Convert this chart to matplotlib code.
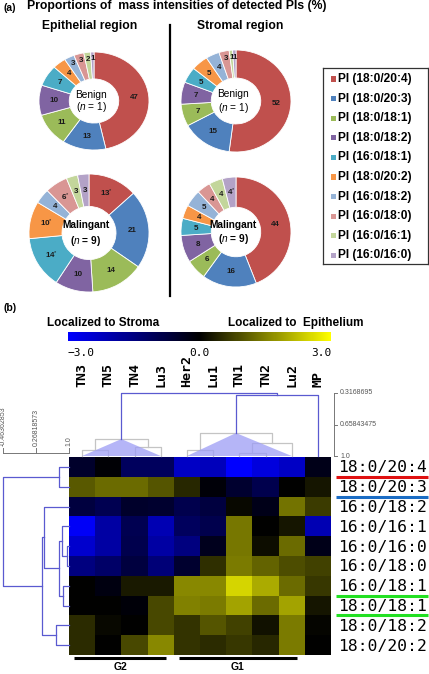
import matplotlib
matplotlib.use('Agg')
import matplotlib.pyplot as plt
import matplotlib.patches as patches
import matplotlib.transforms as mtransforms
from matplotlib.colors import LinearSegmentedColormap
import numpy as np

plt.rcParams['font.family'] = 'Liberation Sans'
plt.rcParams['mathtext.fontset'] = 'custom'
plt.rcParams['mathtext.it'] = 'Liberation Sans:italic'
plt.rcParams['mathtext.rm'] = 'Liberation Sans'

W, H = 429, 674

# ---- (a) donut data ----
species = ['PI (18:0/20:4)', 'PI (18:0/20:3)', 'PI (18:0/18:1)', 'PI (18:0/18:2)',
           'PI (16:0/18:1)', 'PI (18:0/20:2)', 'PI (16:0/18:2)', 'PI (16:0/18:0)',
           'PI (16:0/16:1)', 'PI (16:0/16:0)']
species_colors = ['#C0504D', '#4F81BD', '#9BBB59', '#8064A2', '#4BACC6',
                  '#F79646', '#95B3D7', '#D99694', '#C3D69B', '#B3A2C7']

epi_benign = [47, 13, 11, 10, 7, 4, 3, 3, 2, 1]
str_benign = [52, 15, 7, 7, 5, 5, 4, 3, 1, 1]
epi_malig = [13, 21, 14, 10, 14, 10, 4, 6, 3, 3]
str_malig = [44, 16, 6, 8, 5, 4, 5, 4, 4, 4]
epi_malig_sig = [1, 0, 0, 0, 1, 1, 0, 1, 0, 0]
str_malig_sig = [0, 0, 0, 0, 0, 0, 0, 0, 0, 1]

# ---- (b) heatmap data ----
lipids = ['18:0/20:4', '18:0/20:3', '16:0/18:2', '16:0/16:1', '16:0/16:0',
          '16:0/18:0', '16:0/18:1', '18:0/18:1', '18:0/18:2', '18:0/20:2']
samples = ['TN3', 'TN5', 'TN4', 'Lu3', 'Her2', 'Lu1', 'TN1', 'TN2', 'Lu2', 'MP']
log_ratio = np.array([
    [-0.5, -0.05, -1.1, -1.1, -2.3, -2.2, -3.0, -2.6, -2.3, -0.3],
    [1.05, 1.25, 1.25, 1.0, 0.45, -0.1, -0.55, -0.9, 0.0, 0.25],
    [-0.75, -0.95, -0.5, -0.55, -0.9, -0.75, 0.1, -0.3, 1.35, 0.7],
    [-2.9, -1.9, -0.95, -2.1, -1.1, -0.9, 1.4, 0.0, 0.25, -2.1],
    [-2.4, -1.9, -0.9, -1.9, -1.5, -0.35, 1.4, 0.15, 1.25, -0.3],
    [-1.5, -1.2, -0.75, -1.4, -0.55, 0.55, 1.45, 1.15, 0.9, 0.75],
    [0.0, -0.2, 0.3, 0.3, 1.6, 1.6, 2.5, 2.0, 1.25, 0.65],
    [0.0, 0.0, -0.1, 0.85, 1.5, 1.45, 1.9, 1.25, 1.9, 0.25],
    [0.5, 0.1, 0.0, 0.85, 0.6, 1.0, 0.75, 0.2, 1.45, 0.05],
    [0.5, 0.0, 0.85, 1.6, 0.6, 0.5, 0.65, 0.45, 1.45, 0.0],
])
highlight = {'18:0/20:4': '#e01010', '18:0/20:3': '#1a6cc4',
             '16:0/18:1': '#22e022', '18:0/18:1': '#22e022'}
groups = [('G2', 0, 3), ('G1', 4, 8)]

# hierarchical clustering (merge a, b at similarity h), leaves in display order
row_merges = [(4, 5, 0.949), (3, 10, 0.838), (6, 7, 0.874), (11, 12, 0.785),
              (2, 13, 0.452), (8, 9, 0.712), (14, 15, 0.394), (0, 1, 0.785),
              (17, 16, -0.457)]
col_merges = [(0, 1, 0.935), (2, 3, 0.902), (10, 11, 0.816), (4, 5, 0.935),
              (6, 7, 0.967), (14, 8, 0.859), (13, 15, 0.751), (16, 9, 0.339),
              (12, 17, 0.3169)]
row_scale = [-0.46362853, 0.26818573, 1.0]
row_scale_labels = ['-0.46362853', '0.26818573', '1.0']
col_scale = [0.3168695, 0.65843475, 1.0]
col_scale_labels = ['0.3168695', '0.65843475', '1.0']

fig = plt.figure(figsize=(W / 100, H / 100), dpi=100)


def px_axes(x0, y0, x1, y1):
    return fig.add_axes([x0 / W, 1 - y1 / H, (x1 - x0) / W, (y1 - y0) / H])


def ftext(x, y, s, **kw):
    return fig.text(x / W, 1 - y / H, s, **kw)


# ---------------- (a) ----------------
ftext(3, 8, '(a)', fontsize=7.5, fontweight='bold', va='center')
ftext(27, 6, 'Proportions of  mass intensities of detected PIs (%)',
      fontsize=8.8, fontweight='bold', va='center')
ftext(90, 26, 'Epithelial region', fontsize=8.7, fontweight='bold', ha='center', va='center')
ftext(240, 26, 'Stromal region', fontsize=8.7, fontweight='bold', ha='center', va='center')
fig.add_artist(plt.Line2D([170 / W, 170 / W], [1 - 25 / H, 1 - 296 / H], color='black', lw=1.6))

pies = [
    (epi_benign, None, (94, 101, 55, 49), 'Benign', 1),
    (str_benign, None, (236, 101, 55, 51), 'Benign', 1),
    (epi_malig, epi_malig_sig, (89, 233, 60, 59), 'Malingant', 9),
    (str_malig, str_malig_sig, (236, 232, 55, 55), 'Malingant', 9),
]
for vals, sig, (cx, cy, rx, ry), grp, n in pies:
    ax = px_axes(cx - rx, cy - ry, cx + rx, cy + ry)
    wedges, _ = ax.pie(vals, colors=species_colors, startangle=90, counterclock=False,
                       radius=1, wedgeprops=dict(width=0.55, edgecolor='white', linewidth=0.6))
    ax.set_aspect('auto')
    ax.set_xlim(-1, 1)
    ax.set_ylim(-1, 1)
    ax.axis('off')
    for i, w in enumerate(wedges):
        ang = np.deg2rad((w.theta1 + w.theta2) / 2)
        r = 0.86 if (vals[i] <= 3 and n == 1) else 0.73
        lab = str(vals[i]) + ('$^{*}$' if sig is not None and sig[i] else '')
        ax.text(r * np.cos(ang), r * np.sin(ang), lab, ha='center', va='center',
                fontsize=5.8, fontweight='bold', color='#1a1a1a')
    wt = 'bold' if n > 1 else 'normal'
    ax.text(-0.05, 0.13, grp, ha='center', va='center', fontsize=7.3, fontweight=wt)
    ax.text(-0.05, -0.13, '($\\it{n}$ = %d)' % n, ha='center', va='center', fontsize=7.3,
            fontweight=wt)

# legend
axl = px_axes(323, 68, 428, 264)
axl.set_xlim(0, 105)
axl.set_ylim(196, 0)
axl.set_xticks([])
axl.set_yticks([])
for s in axl.spines.values():
    s.set_linewidth(0.9)
    s.set_color('#333333')
for i, (name, col) in enumerate(zip(species, species_colors)):
    y = 11 + 19.6 * i
    axl.add_patch(patches.Rectangle((8, y - 2.6), 5.2, 5.2, facecolor=col, edgecolor='none'))
    axl.text(14.5, y, name, fontsize=8.6, fontweight='bold', va='center', ha='left')

# ---------------- (b) ----------------
ftext(3, 308, '(b)', fontsize=7.5, fontweight='bold', va='center')
ftext(103, 323, 'Localized to Stroma', fontsize=8.5, fontweight='bold', ha='center', va='center')
ftext(228, 323, 'Localized to  Epithelium', fontsize=8.5, fontweight='bold', ha='left', va='center')

cmap = LinearSegmentedColormap.from_list('bky', ['#0000ff', '#000000', '#ffff00'])

axh = px_axes(69, 457, 331, 655)
im = axh.imshow(log_ratio, cmap=cmap, vmin=-3, vmax=3, aspect='auto', interpolation='nearest')
axh.axis('off')

cax = px_axes(68, 332, 331, 341)
cb = fig.colorbar(im, cax=cax, orientation='horizontal', ticks=[-3, 0, 3])
cb.outline.set_visible(False)
cax.set_xticklabels(['\u22123.0', '0.0', '3.0'], fontfamily='DejaVu Sans Mono', fontsize=8)
cax.tick_params(length=0, pad=5)
tl = cax.get_xticklabels()
tl[0].set_ha('left')
tl[2].set_ha('right')

# row labels + underlines
trow = mtransforms.blended_transform_factory(axh.transAxes, axh.transData)
for i, name in enumerate(lipids):
    axh.text((338 - 69) / 262, i + 0.05, name, transform=trow, ha='left', va='center',
             fontfamily='DejaVu Sans Mono', fontsize=11.8, clip_on=False)
    if name in highlight:
        axh.plot([(336 - 69) / 262, (428 - 69) / 262], [i + 0.5, i + 0.5], transform=trow,
                 color=highlight[name], lw=2.2, clip_on=False, solid_capstyle='butt')

# column labels
tcol = mtransforms.blended_transform_factory(axh.transData, fig.transFigure)
for j, name in enumerate(samples):
    axh.text(j, 1 - 387 / H, name, transform=tcol, rotation=90, ha='center', va='bottom',
             fontfamily='DejaVu Sans Mono', fontsize=9.5, fontweight='bold', clip_on=False)

# group bars
for name, a, b in groups:
    x0, x1 = a - 0.3, b + 0.2
    axh.plot([x0, x1], [1 - 658 / H] * 2, transform=tcol, color='black', lw=2.2,
             clip_on=False, solid_capstyle='butt')
    axh.text((x0 + x1) / 2, 1 - 667 / H, name, transform=tcol, ha='center', va='center',
             fontsize=7.5, fontweight='bold')


def build_tree(merges, n):
    pos = {i: float(i) for i in range(n)}
    hgt = {i: 1.0 for i in range(n)}
    leaves = {i: [i] for i in range(n)}
    parent = {}
    links = []
    for k, (a, b, h) in enumerate(merges):
        node = n + k
        pos[node] = (pos[a] + pos[b]) / 2
        hgt[node] = h
        leaves[node] = leaves[a] + leaves[b]
        parent[a] = node
        parent[b] = node
        links.append((node, a, b))
    return pos, hgt, leaves, parent, links


# column dendrogram
blue = '#5a5ad0'
axc = px_axes(69, 393, 331, 456)
axc.set_xlim(-0.5, 9.5)
axc.set_ylim(1.0, col_scale[0])
axc.axis('off')
cpos, chgt, cleaves, cparent, clinks = build_tree(col_merges, len(samples))
cut = 0.7
for node, a, b in clinks:
    h = chgt[node]
    col = blue if h < cut else '#c4c4c4'
    axc.plot([cpos[a], cpos[a], cpos[b], cpos[b]], [chgt[a], h, h, chgt[b]],
             color=col, lw=0.9, clip_on=False, zorder=3 if h < cut else 1)
for node, a, b in clinks:
    h = chgt[node]
    if h >= cut and node in cparent and chgt[cparent[node]] < cut:
        lv = cleaves[node]
        tri = patches.Polygon([(min(lv), 1.0), (max(lv), 1.0), (cpos[node], h)],
                              closed=True, facecolor='#9d9df5', alpha=0.75,
                              edgecolor='none', zorder=2, clip_on=False)
        axc.add_patch(tri)

# column scale
tsc = mtransforms.blended_transform_factory(fig.transFigure, axc.transData)
axc.plot([334 / W, 334 / W], [col_scale[0], col_scale[-1]], transform=tsc, color='#777777',
         lw=0.7, clip_on=False)
for v, lab in zip(col_scale, col_scale_labels):
    axc.plot([334 / W, 337 / W], [v, v], transform=tsc, color='#777777', lw=0.7, clip_on=False)
    axc.text(340 / W, v, lab, transform=tsc, fontsize=5, color='#555555', va='center',
             ha='left', clip_on=False)

# row dendrogram
axr = px_axes(3, 457, 69, 655)
axr.set_xlim(row_scale[0], 1.0)
axr.set_ylim(len(lipids) - 0.5, -0.5)
axr.axis('off')
rpos, rhgt, _, _, rlinks = build_tree(row_merges, len(lipids))
for node, a, b in rlinks:
    h = rhgt[node]
    axr.plot([rhgt[a], h, h, rhgt[b]], [rpos[a], rpos[a], rpos[b], rpos[b]],
             color=blue, lw=0.9, clip_on=False)

# row scale
trs = mtransforms.blended_transform_factory(axr.transData, fig.transFigure)
axr.plot([row_scale[0], row_scale[-1]], [1 - 453 / H] * 2, transform=trs, color='#777777',
         lw=0.7, clip_on=False)
for v, lab in zip(row_scale, row_scale_labels):
    axr.plot([v, v], [1 - 453 / H, 1 - 448 / H], transform=trs, color='#777777', lw=0.7,
             clip_on=False)
    axr.text(v, 1 - 446 / H, lab, transform=trs, rotation=90, fontsize=5, color='#555555',
             ha='center', va='bottom', clip_on=False)

fig.savefig('out.png', dpi=100)
